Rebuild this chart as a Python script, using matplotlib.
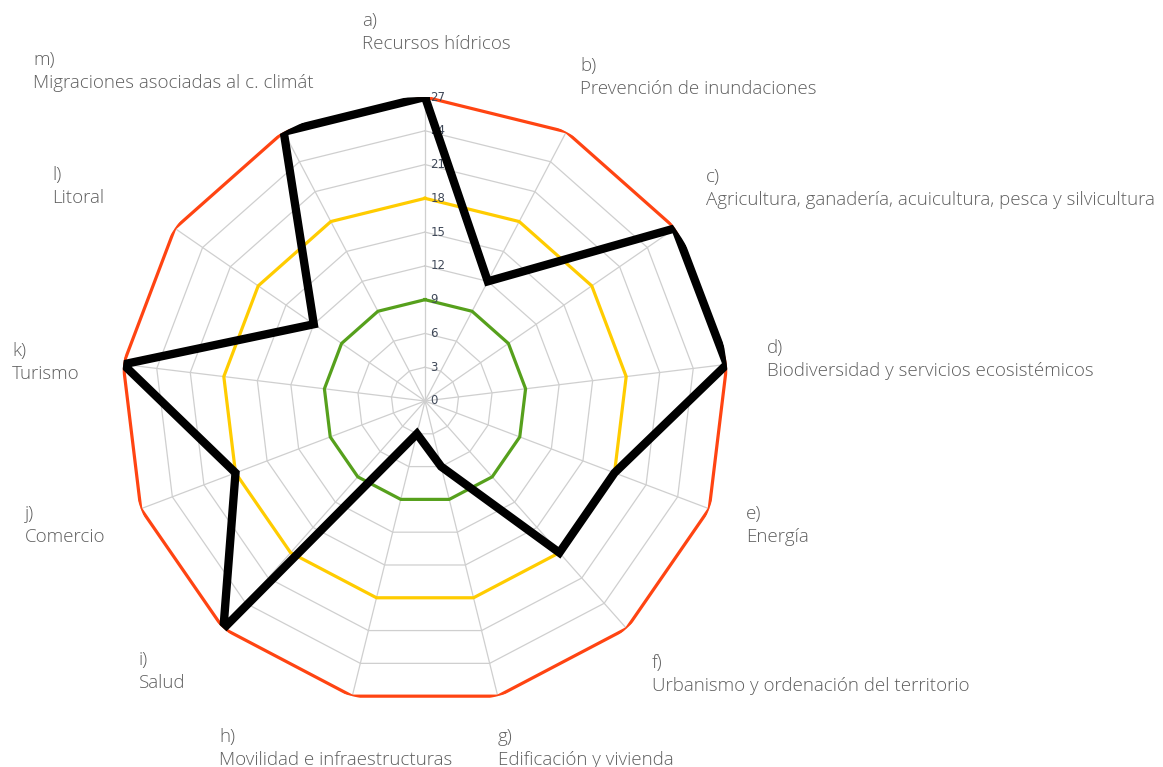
import numpy as np
import matplotlib
matplotlib.use("Agg")
import matplotlib.pyplot as plt
from matplotlib import font_manager

# ---------------- data ----------------
letters = ["a)", "b)", "c)", "d)", "e)", "f)", "g)", "h)", "i)", "j)", "k)", "l)", "m)"]
categories = [
    "Recursos hídricos",
    "Prevención de inundaciones",
    "Agricultura, ganadería, acuicultura, pesca y silvicultura",
    "Biodiversidad y servicios ecosistémicos",
    "Energía",
    "Urbanismo y ordenación del territorio",
    "Edificación y vivienda",
    "Movilidad e infraestructuras",
    "Salud",
    "Comercio",
    "Turismo",
    "Litoral",
    "Migraciones asociadas al c. climát",
]
values = [27, 12, 27, 27, 18, 18, 6, 3, 27, 18, 27, 12, 27]
ref_low = [9] * 13
ref_mid = [18] * 13
ref_high = [27] * 13
ticks = [0, 3, 6, 9, 12, 15, 18, 21, 24, 27]

# ---------------- layout (pixels) ----------------
W, H = 1163, 767
cx, cy, R = 425, 401, 304
# first-line centre of each label (x left, y from top)
label_pos = [(362, 21), (580, 66), (706, 177), (767, 348), (746, 514), (652, 663),
             (498, 737), (219, 737), (139, 660), (25, 514), (12, 351), (52, 175), (33, 60)]
line_gap = 23

fams = {f.name for f in font_manager.fontManager.ttflist}
font = "Open Sans" if "Open Sans" in fams else "DejaVu Sans"

fig = plt.figure(figsize=(W / 100, H / 100), dpi=100)
ax = fig.add_axes([(cx - R) / W, (H - cy - R) / H, 2 * R / W, 2 * R / H], projection="polar")
ax.set_theta_zero_location("N")
ax.set_theta_direction(-1)
ax.set_ylim(0, 27)
ax.grid(False)
ax.spines["polar"].set_visible(False)
ax.set_xticks([])
ax.set_yticks([])
ax.patch.set_alpha(0)

n = len(categories)
ang = np.linspace(0, 2 * np.pi, n, endpoint=False)
ang_c = np.append(ang, ang[0])

def closed(v):
    return np.append(v, v[0])

# spokes
for a in ang:
    ax.plot([a, a], [0, ticks[-1]], color="#cfcfcf", lw=0.9, zorder=1)
# gray rings
for t in ticks[1:]:
    ax.plot(ang_c, closed([t] * n), color="#cfcfcf", lw=0.9, zorder=1)

# coloured reference rings
ax.plot(ang_c, closed(ref_low), color="#56a01c", lw=2.3, zorder=2)
ax.plot(ang_c, closed(ref_mid), color="#ffcc00", lw=2.3, zorder=2)
ax.plot(ang_c, closed(ref_high), color="#ff4412", lw=2.3, zorder=2)

# tick labels
for t in ticks:
    ax.annotate(str(t), xy=(0, t), xytext=(4, 0), textcoords="offset points",
                ha="left", va="center", fontsize=8.5, color="#3f4858", zorder=3)

# data line
ax.plot(ang_c, closed(values), color="black", lw=6, solid_joinstyle="miter", zorder=4)

# category labels
for (x, y), l, c in zip(label_pos, letters, categories):
    fig.text(x / W, 1 - y / H, l, ha="left", va="center", fontsize=13.5,
             color="#5f5f5f", family=font, fontweight="light")
    fig.text(x / W, 1 - (y + line_gap) / H, c, ha="left", va="center", fontsize=13.5,
             color="#5f5f5f", family=font, fontweight="light")

fig.savefig("out.png", dpi=100, facecolor="white")
